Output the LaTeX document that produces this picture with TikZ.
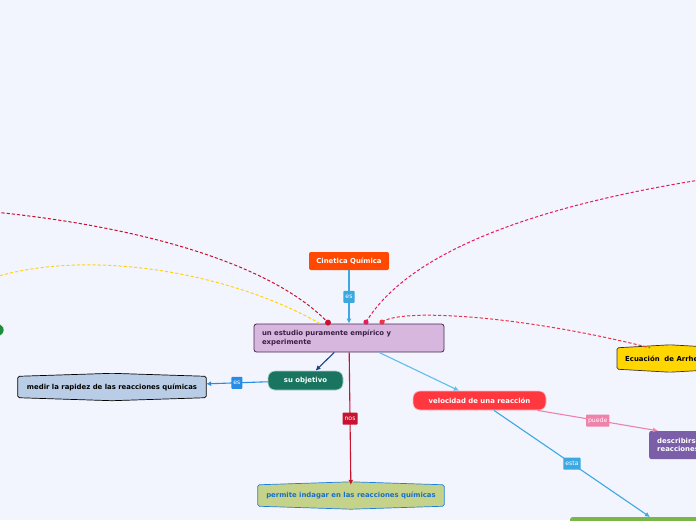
\documentclass[tikz,border=0pt]{standalone}
\usepackage{fontspec}
\setmainfont{DejaVu Sans}
\usetikzlibrary{arrows.meta,positioning}
\pgfdeclarelayer{back}
\pgfdeclarelayer{frames}
\pgfsetlayers{back,frames,main}
\definecolor{pagebg}{RGB}{242,245,254}
\definecolor{cinfill}{RGB}{255,72,0}
\definecolor{estfill}{RGB}{216,183,223}
\definecolor{estline}{RGB}{72,40,82}
\definecolor{esttext}{RGB}{58,30,68}
\definecolor{objfill}{RGB}{26,117,96}
\definecolor{medfill}{RGB}{186,205,230}
\definecolor{permfill}{RGB}{197,211,138}
\definecolor{permline}{RGB}{30,128,220}
\definecolor{permtext}{RGB}{25,110,200}
\definecolor{velfill}{RGB}{255,56,64}
\definecolor{desfill}{RGB}{122,95,168}
\definecolor{arrfill}{RGB}{255,214,0}
\definecolor{arrline}{RGB}{60,50,30}
\definecolor{grnfill}{RGB}{122,182,72}
\definecolor{dotgreen}{RGB}{30,140,60}
\definecolor{skyblue}{RGB}{60,168,225}
\definecolor{navy}{RGB}{30,62,140}
\definecolor{medblue}{RGB}{40,140,230}
\definecolor{crim}{RGB}{200,18,48}
\definecolor{lightsky}{RGB}{92,190,235}
\definecolor{rose}{RGB}{240,130,170}
\definecolor{gold}{RGB}{255,210,30}
\definecolor{magen}{RGB}{228,30,92}
\definecolor{redd}{RGB}{236,52,72}

\begin{document}
\begin{tikzpicture}[x=1pt,y=-1pt,>={Latex[length=5pt,width=5pt]},
  font=\fontsize{6.9}{8.4}\selectfont\bfseries,
  topic/.style={inner sep=2pt,minimum height=18pt,align=center},
  pill/.style={topic,rounded corners=7pt,draw=white!65!#1,fill=#1,text=white,line width=.7pt,minimum height=19pt},
  hexbox/.style={topic,minimum height=21pt},
  lbl/.style={fill=#1,text=white,font=\fontsize{6.2}{7}\selectfont,inner sep=2pt,rounded corners=.8pt,minimum height=12pt},
  link/.style={draw=#1,line width=1.1pt,->},
  xlink/.style={draw=#1,line width=1pt,dash pattern=on 3.2pt off 2pt}]
\useasboundingbox (0,0) rectangle (696,520);
\begin{pgfonlayer}{back}
\fill[pagebg] (0,0) rectangle (696,520);
\end{pgfonlayer}

% nodes
\node[topic,fill=cinfill,text=white,rounded corners=2pt,minimum width=80pt] (cin) at (349,261) {Cinetica Química};
\node[topic,fill=estfill,draw=estline,line width=.8pt,rounded corners=2.5pt,text=esttext,
  minimum height=28pt,text width=174pt,align=left,inner xsep=8pt] (est) at (349,338)
  {un estudio puramente empírico y\\experimente};
\node[pill=objfill,minimum width=75pt] (obj) at (305.5,380.5) {su objetivo};
\node[hexbox,minimum width=188pt] (med) at (112,387) {medir la rapidez de las reacciones químicas};
\node[hexbox,minimum width=186pt,text=permtext] (perm) at (351,495.5) {permite indagar en las reacciones químicas};
\node[pill=velfill,minimum width=133pt] (vel) at (479.5,400.5) {velocidad de una reacción};
\node[topic,fill=desfill,text=white,rounded corners=2pt,anchor=west,minimum height=28pt,
  inner xsep=8pt,align=left] (des) at (649,445) {describirse\\reacciones};
\node[hexbox,anchor=west,inner xsep=8pt] (arr) at (617,358.5) {Ecuación\ \ de Arrhenius};
\node[fill=grnfill,rounded corners=2pt,anchor=north west,minimum width=200pt,minimum height=25pt] (grn) at (570,517) {};
\node[fill=dotgreen,draw=white,rounded corners=6pt,minimum width=68pt,minimum height=12pt] (lft) at (-30,330) {};

% hexagon frames
\begin{pgfonlayer}{frames}
\foreach \n/\f/\d in {med/medfill/black,perm/permfill/permline,arr/arrfill/arrline}
  \filldraw[fill=\f,draw=\d,line width=.7pt,rounded corners=1.5pt] (\n.north west) -- ([yshift=3pt]\n.north)
    -- (\n.north east) -- (\n.south east) -- ([yshift=-3pt]\n.south) -- (\n.south west) -- cycle;
\end{pgfonlayer}

% connectors
\draw[link=skyblue] (cin) -- (est) node[lbl=skyblue,midway] {es};
\draw[link=navy] (est) -- (obj);
\draw[link=medblue] (obj) -- (med) node[lbl=medblue,midway] {es};
\draw[link=crim] (est) -- (perm) node[lbl=crim,midway] {nos};
\draw[link=lightsky] (est) -- (vel);
\draw[link=rose] (vel) -- ([xshift=9pt]des.north west) node[lbl=rose,midway] {puede};
\draw[link=skyblue] (vel) -- ([xshift=80pt]grn.north west) node[lbl=skyblue,midway] {esta};

% dashed relations
\coordinate (w1) at (-40,209);
\coordinate (w2) at (-20,282);
\coordinate (ne) at (706,179);
\coordinate (cd) at ([xshift=-21pt,yshift=1pt]est.north);
\coordinate (yd) at ([xshift=-29pt]est.north);
\coordinate (md) at ([xshift=17pt,yshift=1.5pt]est.north);
\coordinate (rd) at ([xshift=33pt,yshift=1.5pt]est.north);
\draw[xlink=gold] (w2) .. controls (80,245) and (230,272) .. (yd);
\draw[xlink=crim] (w1) .. controls (130,222) and (270,262) .. (cd);
\draw[xlink=magen] (md) .. controls (410,250) and (540,205) .. (ne);
\draw[xlink=redd] (rd) .. controls (400,308) and (520,315) .. ([xshift=33pt]arr.north west);
\fill[crim] (cd) circle (3pt);
\fill[magen] (md) circle (2.6pt);
\fill[redd] (rd) circle (2.6pt);
\end{tikzpicture}
\end{document}
